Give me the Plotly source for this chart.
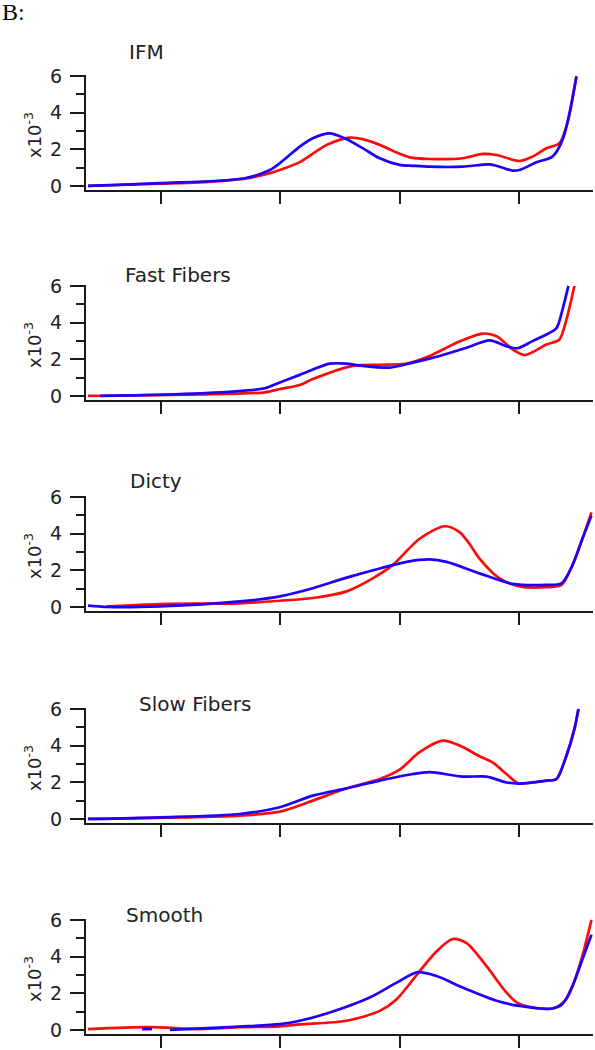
import plotly.graph_objects as go

# ---------------- data (x in axis units, ticks at 1..4; y in units of 10^-3) -------------
panel_titles = ["IFM", "Fast Fibers", "Dicty", "Slow Fibers", "Smooth"]
x_ticks = [1, 2, 3, 4]
y_ticks = [0, 2, 4, 6]
y_tick_text = ["0", "2", "4", "6"]

ifm_red_x = [0.389, 0.992, 1.326, 1.703, 1.912, 1.996, 2.163, 2.389, 2.582, 2.690, 2.833, 2.975,
             3.084, 3.251, 3.527, 3.695, 3.812, 4.004, 4.113, 4.230, 4.339, 4.397, 4.423, 4.481]
ifm_red_y = [0.0, 0.12, 0.2, 0.4, 0.7, 0.87, 1.3, 2.24, 2.64, 2.55, 2.24, 1.82,
             1.56, 1.47, 1.51, 1.75, 1.69, 1.36, 1.6, 2.06, 2.33, 3.24, 3.9, 6.0]
ifm_blue_x = [0.389, 0.992, 1.703, 1.912, 1.996, 2.163, 2.272, 2.414, 2.540, 2.690, 2.833, 3.0,
              3.109, 3.251, 3.527, 3.753, 3.837, 3.946, 4.004, 4.146, 4.280, 4.364, 4.423, 4.481]
ifm_blue_y = [0.0, 0.15, 0.42, 0.87, 1.24, 2.14, 2.6, 2.87, 2.6, 2.06, 1.51, 1.15,
              1.1, 1.05, 1.05, 1.18, 1.05, 0.84, 0.87, 1.29, 1.6, 2.5, 3.97, 5.96]

fast_red_x = [0.389, 1.326, 1.870, 1.996, 2.163, 2.272, 2.607, 2.833, 3.059, 3.251, 3.477,
              3.695, 3.812, 3.946, 4.046, 4.230, 4.339, 4.397, 4.464]
fast_red_y = [0.0, 0.08, 0.2, 0.38, 0.6, 0.92, 1.64, 1.7, 1.77, 2.18, 2.9,
              3.4, 3.26, 2.54, 2.23, 2.8, 3.08, 4.16, 6.0]
fast_blue_x = [0.49, 1.326, 1.870, 1.996, 2.163, 2.414, 2.556, 2.690, 2.916, 3.109, 3.335,
               3.561, 3.753, 3.895, 3.987, 4.113, 4.230, 4.314, 4.364, 4.414]
fast_blue_y = [0.0, 0.14, 0.42, 0.74, 1.15, 1.76, 1.76, 1.64, 1.55, 1.82, 2.18,
               2.63, 3.03, 2.72, 2.6, 2.99, 3.35, 3.7, 4.7, 6.0]

dicty_red_x = [0.548, 0.992, 1.661, 1.996, 2.272, 2.556, 2.774, 2.941, 3.167, 3.377, 3.502,
               3.600, 3.669, 3.837, 4.004, 4.230, 4.356, 4.448, 4.531, 4.607]
dicty_red_y = [0.03, 0.16, 0.2, 0.34, 0.49, 0.85, 1.56, 2.28, 3.72, 4.4, 4.08,
               3.3, 2.64, 1.56, 1.12, 1.08, 1.2, 2.28, 3.72, 5.16]
dicty_blue_x = [0.389, 0.548, 0.992, 1.661, 1.996, 2.272, 2.556, 2.833, 3.059, 3.251, 3.393,
                3.669, 3.946, 4.230, 4.356, 4.448, 4.531, 4.607]
dicty_blue_y = [0.07, 0.0, 0.03, 0.3, 0.58, 1.02, 1.6, 2.1, 2.46, 2.59, 2.46,
                1.83, 1.26, 1.2, 1.29, 2.28, 3.72, 4.98]

slow_red_x = [0.389, 1.661, 1.996, 2.272, 2.556, 2.833, 3.0, 3.167, 3.360, 3.502, 3.669,
              3.778, 3.895, 3.979, 4.004, 4.230, 4.314, 4.397, 4.464, 4.498]
slow_red_y = [0.0, 0.18, 0.4, 1.0, 1.67, 2.18, 2.69, 3.64, 4.27, 4.0, 3.42,
              3.09, 2.45, 1.99, 1.93, 2.09, 2.18, 3.45, 4.9, 6.0]
slow_blue_x = [0.389, 0.992, 1.661, 1.996, 2.272, 2.556, 2.833, 3.109, 3.251, 3.527, 3.728,
               3.895, 4.004, 4.230, 4.314, 4.397, 4.464, 4.498]
slow_blue_y = [0.0, 0.09, 0.27, 0.64, 1.27, 1.67, 2.09, 2.45, 2.55, 2.31, 2.31,
               1.99, 1.93, 2.09, 2.18, 3.45, 4.9, 6.0]

smooth_red_x = [0.389, 0.908, 1.326, 1.661, 1.996, 2.163, 2.556, 2.833, 2.975, 3.167, 3.310,
                3.444, 3.561, 3.728, 3.895, 4.004, 4.280, 4.397, 4.506, 4.607]
smooth_red_y = [0.05, 0.15, 0.05, 0.15, 0.2, 0.3, 0.5, 1.04, 1.68, 3.2, 4.29,
                4.96, 4.74, 3.48, 2.04, 1.41, 1.17, 1.68, 3.48, 6.0]
smooth_blue_x = [0.841, 0.925, None, 1.075, 1.661, 1.996, 2.163, 2.414, 2.749, 2.975, 3.151,
                 3.310, 3.527, 3.812, 4.004, 4.280, 4.364, 4.448, 4.531, 4.607]
smooth_blue_y = [0.05, 0.05, None, 0.0, 0.18, 0.32, 0.5, 0.95, 1.77, 2.58, 3.15,
                 2.94, 2.31, 1.59, 1.31, 1.17, 1.41, 2.4, 3.84, 5.19]

red_series = [(ifm_red_x, ifm_red_y), (fast_red_x, fast_red_y), (dicty_red_x, dicty_red_y),
              (slow_red_x, slow_red_y), (smooth_red_x, smooth_red_y)]
blue_series = [(ifm_blue_x, ifm_blue_y), (fast_blue_x, fast_blue_y), (dicty_blue_x, dicty_blue_y),
               (slow_blue_x, slow_blue_y), (smooth_blue_x, smooth_blue_y)]

# ---------------- layout geometry ----------------
W, H = 595, 1050
panel_tops = [75, 285, 496, 708, 919]   # pixel top of each plot area
panel_h = 115
x_left, x_right = 86, 593
title_pos = [(146, 52), (178, 275), (156, 481), (195, 704), (164, 915)]

RED = "rgb(255,10,10)"
BLUE = "rgb(30,0,255)"
AXC = "#1a1a1a"
FONT = "DejaVu Sans"

fig = go.Figure()
annotations = []
layout = dict(width=W, height=H, margin=dict(l=0, r=0, t=0, b=0, autoexpand=False),
              paper_bgcolor="white", plot_bgcolor="white", showlegend=False)

for i in range(5):
    n = "" if i == 0 else str(i + 1)
    xa, ya = "x" + n, "y" + n
    top = panel_tops[i]
    dom_y = [1 - (top + panel_h) / H, 1 - top / H]
    layout["xaxis" + n] = dict(
        domain=[x_left / W, x_right / W], range=[0.372, 4.62], anchor=ya,
        tickmode="array", tickvals=x_ticks, showticklabels=False,
        ticks="outside", ticklen=12, tickwidth=2, tickcolor=AXC,
        showline=True, linewidth=2, linecolor=AXC, showgrid=False, zeroline=False)
    layout["yaxis" + n] = dict(
        domain=dom_y, range=[-0.22, 6.05], anchor=xa,
        tickmode="array", tickvals=y_ticks, ticktext=y_tick_text,
        ticks="outside", ticklen=14, tickwidth=2, tickcolor=AXC,
        ticklabelstandoff=4,
        tickfont=dict(family=FONT, size=19, color="#222"),
        minor=dict(tickvals=[1, 3, 5], ticks="outside", ticklen=8, tickwidth=2, tickcolor=AXC),
        showline=True, linewidth=2, linecolor=AXC, showgrid=False, zeroline=False)

    rx, ry = red_series[i]
    bx, by = blue_series[i]
    fig.add_trace(go.Scatter(x=rx, y=ry, mode="lines", xaxis=xa, yaxis=ya,
                             line=dict(color=RED, width=2.7, shape="spline", smoothing=0.8)))
    fig.add_trace(go.Scatter(x=bx, y=by, mode="lines", xaxis=xa, yaxis=ya,
                             line=dict(color=BLUE, width=2.7, shape="spline", smoothing=0.8)))

    tx, ty = title_pos[i]
    annotations.append(dict(text=panel_titles[i], xref="paper", yref="paper",
                            x=tx / W, y=1 - ty / H, xanchor="center", yanchor="middle",
                            showarrow=False, font=dict(family=FONT, size=20, color="#222")))
    annotations.append(dict(text="x10<sup>-3</sup>", xref="paper", yref="paper",
                            x=33 / W, y=1 - (top + 60) / H, xanchor="center", yanchor="middle",
                            textangle=-90, showarrow=False,
                            font=dict(family=FONT, size=18, color="#222")))

annotations.append(dict(text="B:", xref="paper", yref="paper", x=0.0, y=1 - 12 / H,
                        xanchor="left", yanchor="middle", showarrow=False,
                        font=dict(family="Liberation Serif", size=24, color="#000")))

layout["annotations"] = annotations
fig.update_layout(**layout)
fig.write_html("out.html", config={"displayModeBar": False},
               post_script="document.body.style.margin='0';document.body.style.overflow='hidden';")
